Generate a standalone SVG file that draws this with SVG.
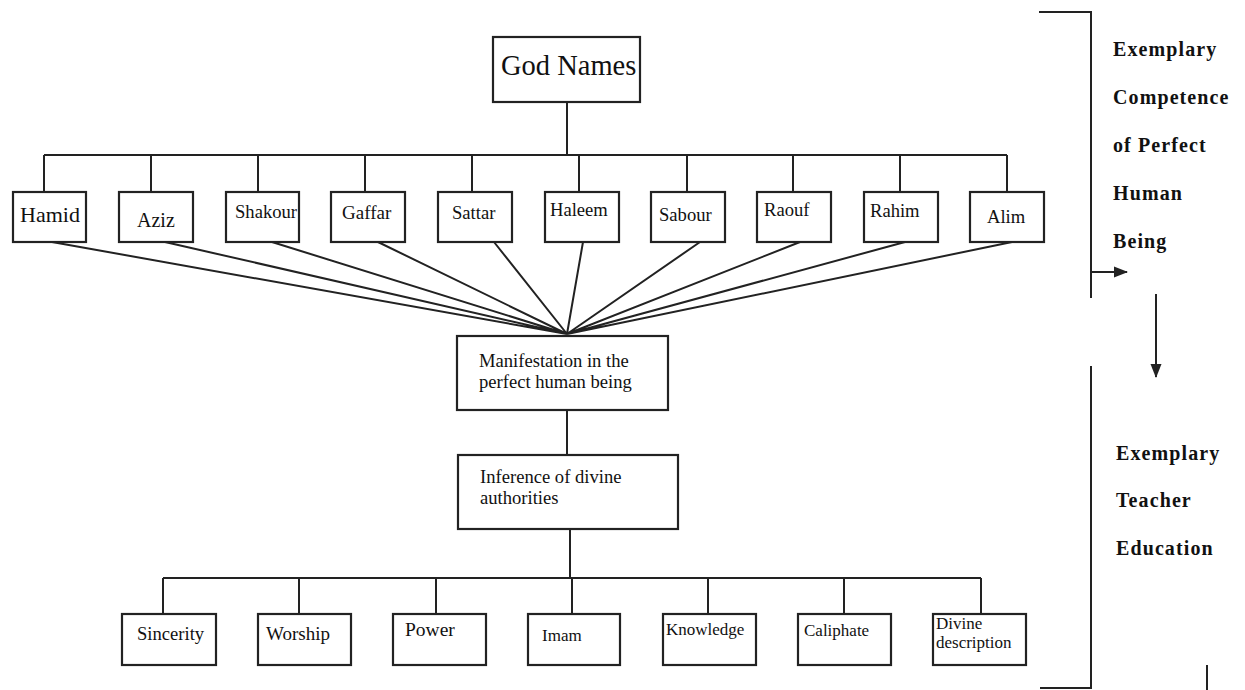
<svg xmlns="http://www.w3.org/2000/svg" width="1245" height="690" viewBox="0 0 1245 690">
<style>
.b{fill:#fff;stroke:#222;stroke-width:2.2}
.l{stroke:#222;stroke-width:2;fill:none}
.t{font-family:"Liberation Serif",serif;font-size:18.6px;fill:#111}
.s{font-size:17px}
.h{font-family:"Liberation Serif",serif;font-size:20px;font-weight:bold;letter-spacing:1.1px;fill:#111}
</style>
<defs>
<marker id="ar2" markerWidth="14" markerHeight="14" refX="13" refY="7" orient="auto" markerUnits="userSpaceOnUse"><path d="M0,1.5 L14,7 L0,12.5 z" fill="#222"/></marker>
</defs>
<g id="connectors">
<path class="l" d="M567,102V155M44,155H1007M44,155V192M151,155V192M258,155V192M365,155V192M472,155V192M579,155V192M687,155V192M793,155V192M900,155V192M1007,155V192"/>
<path class="l" d="M52,242L567,334M165,242L567,334M272,242L567,334M378,242L567,334M494,242L567,334M583,242L567,334M700,242L567,334M800,242L567,334M905,242L567,334M1012,242L567,334"/>
<path class="l" d="M567,411V455M570,529V578M163,578H981M163,578V614M299,578V614M436,578V614M572,578V614M708,578V614M844,578V614M981,578V614"/>
<path class="l" d="M1039,12H1091V298M1091,366V688H1040M1207,665V690"/>
<path class="l" d="M1091,272H1127" marker-end="url(#ar2)"/>
<path class="l" d="M1156,294V377" marker-end="url(#ar2)"/>
</g>
<g id="godnames"><rect class="b" x="493" y="37" width="147" height="65"/><text class="t" x="501" y="75" style="font-size:28.5px">God Names</text></g>
<g id="hamid"><rect class="b" x="13" y="192" width="73" height="50"/><text class="t" x="20" y="222" style="font-size:22px">Hamid</text></g>
<g id="aziz"><rect class="b" x="119" y="192" width="74" height="50"/><text class="t" x="137" y="227" style="font-size:20px">Aziz</text></g>
<g id="shakour"><rect class="b" x="226" y="192" width="73" height="50"/><text class="t" x="235" y="218">Shakour</text></g>
<g id="gaffar"><rect class="b" x="331" y="192" width="74" height="50"/><text class="t" x="342" y="219" style="font-size:19px">Gaffar</text></g>
<g id="sattar"><rect class="b" x="438" y="192" width="74" height="50"/><text class="t" x="452" y="219">Sattar</text></g>
<g id="haleem"><rect class="b" x="545" y="192" width="74" height="50"/><text class="t" x="550" y="216">Haleem</text></g>
<g id="sabour"><rect class="b" x="651" y="192" width="74" height="50"/><text class="t" x="659" y="221">Sabour</text></g>
<g id="raouf"><rect class="b" x="757" y="192" width="74" height="50"/><text class="t" x="764" y="216">Raouf</text></g>
<g id="rahim"><rect class="b" x="864" y="192" width="74" height="50"/><text class="t" x="870" y="217">Rahim</text></g>
<g id="alim"><rect class="b" x="970" y="192" width="74" height="50"/><text class="t" x="987" y="223">Alim</text></g>
<g id="manifestation"><rect class="b" x="457" y="336" width="211" height="74"/><text class="t" x="479" y="367">Manifestation in the</text><text class="t" x="479" y="388">perfect human being</text></g>
<g id="inference"><rect class="b" x="458" y="455" width="220" height="74"/><text class="t" x="480" y="483">Inference of divine</text><text class="t" x="480" y="504">authorities</text></g>
<g id="sincerity"><rect class="b" x="122" y="614" width="94" height="51"/><text class="t" x="137" y="640">Sincerity</text></g>
<g id="worship"><rect class="b" x="258" y="614" width="93" height="51"/><text class="t" x="266" y="640" style="font-size:19px">Worship</text></g>
<g id="power"><rect class="b" x="393" y="614" width="93" height="51"/><text class="t" x="405" y="636" style="font-size:19.5px">Power</text></g>
<g id="imam"><rect class="b" x="528" y="614" width="92" height="51"/><text class="t s" x="542" y="641">Imam</text></g>
<g id="knowledge"><rect class="b" x="663" y="614" width="93" height="51"/><text class="t s" x="666" y="635">Knowledge</text></g>
<g id="caliphate"><rect class="b" x="798" y="614" width="93" height="51"/><text class="t s" x="804" y="636">Caliphate</text></g>
<g id="divine"><rect class="b" x="933" y="614" width="93" height="51"/><text class="t s" x="936" y="629">Divine</text><text class="t s" x="936" y="648">description</text></g>
<g id="competence"><text class="h" x="1113" y="56">Exemplary</text><text class="h" x="1113" y="104">Competence</text><text class="h" x="1113" y="152">of Perfect</text><text class="h" x="1113" y="200">Human</text><text class="h" x="1113" y="248">Being</text></g>
<g id="teacher"><text class="h" x="1116" y="460">Exemplary</text><text class="h" x="1116" y="507">Teacher</text><text class="h" x="1116" y="555">Education</text></g>
</svg>
